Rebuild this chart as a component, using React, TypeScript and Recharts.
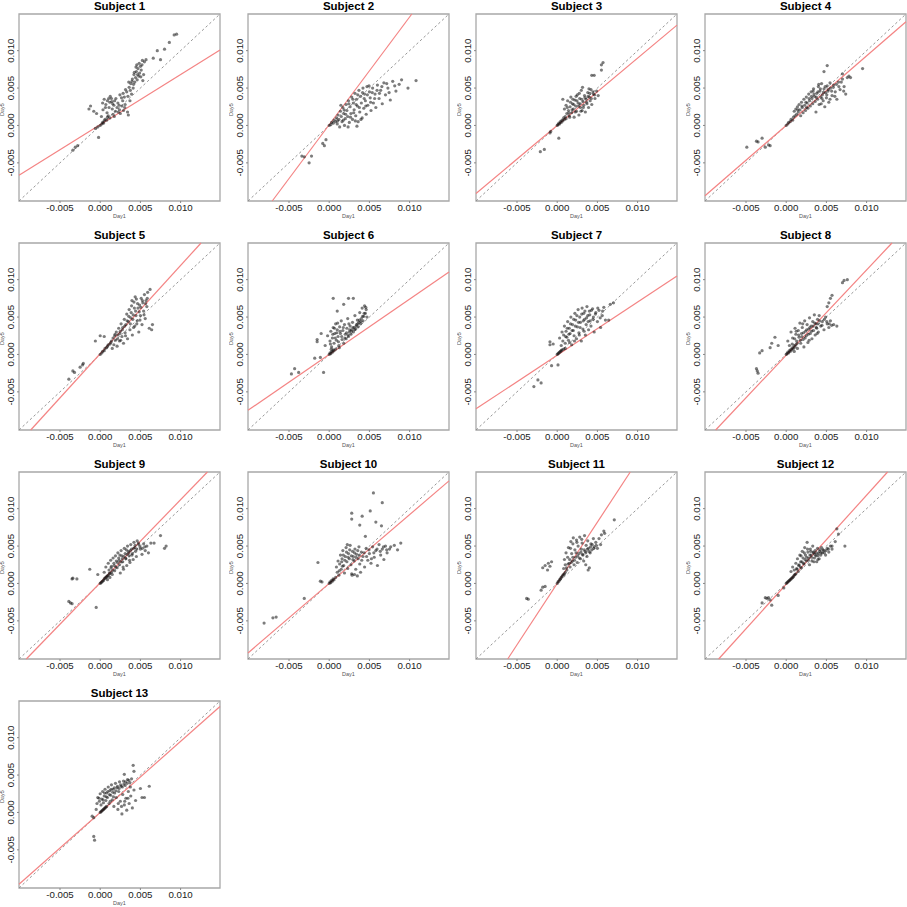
import React from "react";
import { ScatterChart, Scatter, XAxis, YAxis, ReferenceLine, ReferenceArea } from "recharts";

type Pt = [number, number];

const subjectNames = [
  "Subject 1", "Subject 2", "Subject 3", "Subject 4", "Subject 5", "Subject 6", "Subject 7",
  "Subject 8", "Subject 9", "Subject 10", "Subject 11", "Subject 12", "Subject 13",
];

const xLabel = "Day1";
const yLabel = "Day5";
const axisTicks = [-0.005, 0, 0.005, 0.01];

// red fit line per subject: Day5 = intercept + slope * Day1
const fitSlopes = [0.67, 1.44, 0.9, 0.93, 1.18, 0.74, 0.71, 1.14, 1.11, 0.92, 1.64, 1.19, 0.95];
const fitIntercepts = [0.0001, 0.0001, 0, 0, 0.0001, 0, -0.0001, -0.0001, 0.0001, 0, 0, -0.0001, 0];

const subject1: Pt[] = [
  [-0.0031, -0.0029], [-0.0028, -0.0027], [-0.0034, -0.0033], [-0.0006, -0.0004], [-0.0002, -0.0016], [-0.0003, -0.0002],
  [0.0, 0.0], [0.0002, 0.0002], [0.0003, 0.0004], [0.0004, 0.0003], [0.0005, 0.0006], [0.0006, 0.0008], [0.0008, 0.0007],
  [0.0009, 0.0011], [0.001, 0.0013], [0.0012, 0.001], [-0.0012, 0.0026], [-0.0014, 0.0022], [-0.0008, 0.0019],
  [0.0003, 0.003], [0.0005, 0.0035], [0.0007, 0.0028], [0.0009, 0.0033], [0.0011, 0.0024], [0.0012, 0.0031], [0.0014, 0.0036],
  [0.0015, 0.0022], [0.0017, 0.0027], [0.0018, 0.0033], [0.0019, 0.0019], [0.0021, 0.0024], [0.0022, 0.003], [0.0016, 0.0015],
  [0.0024, 0.0021], [0.0025, 0.0016], [0.0027, 0.0026], [0.0028, 0.0033], [0.0029, 0.002], [0.003, 0.0038], [0.0031, 0.0028],
  [0.0033, 0.0045], [0.0034, 0.0018], [0.0035, 0.0014], [0.0036, 0.0051], [0.0037, 0.0033], [0.0038, 0.0056], [0.0039, 0.0042],
  [0.004, 0.0062], [0.0041, 0.005], [0.0042, 0.0068], [0.0043, 0.0058], [0.0044, 0.0064], [0.0045, 0.0072], [0.0046, 0.0061],
  [0.0047, 0.0076], [0.0048, 0.0066], [0.0049, 0.007], [0.005, 0.0079], [0.0051, 0.0074], [0.0052, 0.0081], [0.0054, 0.0068],
  [0.0055, 0.0085], [0.0057, 0.0088], [0.0053, 0.006], [0.0066, 0.009], [0.0071, 0.01], [0.0075, 0.0088], [0.008, 0.0102],
  [0.0086, 0.0111], [0.0092, 0.0121], [0.0095, 0.0122],
  [0.00035, 0.0021], [0.00085, 0.0017], [0.00125, 0.0039], [0.00155, 0.0029], [0.00195, 0.0036], [0.00235, 0.0027],
  [0.00265, 0.0037], [0.00285, 0.0043], [0.00315, 0.0048], [0.00345, 0.0039], [0.00375, 0.0047], [0.00395, 0.0059],
  [0.00415, 0.0055], [0.00425, 0.0071], [0.00445, 0.0078], [0.00465, 0.0068], [0.00485, 0.0083], [0.00505, 0.0065],
  [0.00525, 0.0087], [0.00455, 0.0081], [0.00355, 0.0058], [0.00245, 0.0041], [0.00175, 0.0012], [0.00225, 0.0018],
  [0.00305, 0.0024], [0.00065, 0.0024], [0.00105, 0.0036], [0.00145, 0.0032], [0.00015, 0.0012], [-0.00045, 0.0016],
];

const subject2: Pt[] = [
  [-0.0034, -0.0041], [-0.0031, -0.0042], [-0.0025, -0.005], [-0.0022, -0.0041], [-0.0008, -0.0024], [-0.0006, -0.0027], [-0.0004, -0.0019],
  [0.0, 0.0], [0.0002, 0.0001], [0.0003, 0.0004], [0.0005, 0.0003], [0.0006, 0.0007], [0.0008, 0.0005], [0.0009, 0.001],
  [0.001, 0.0002], [0.0011, 0.0014], [0.0012, 0.0008], [0.0013, -0.0002], [0.0014, 0.0019], [0.0015, 0.0012], [0.0016, 0.0005],
  [0.0017, 0.0024], [0.0018, 0.0016], [0.0019, 0.0], [0.002, 0.0009], [0.0021, 0.0028], [0.0022, 0.002], [0.0023, 0.0012],
  [0.0024, 0.0033], [0.0025, 0.0004], [0.0026, 0.0025], [0.0027, 0.0016], [0.0028, 0.0038], [0.0029, 0.0008], [0.003, 0.003],
  [0.0031, 0.0021], [0.0032, 0.0043], [0.0033, 0.0013], [0.0034, 0.0035], [0.0035, 0.0026], [0.0036, 0.0005], [0.0037, 0.0047],
  [0.0038, 0.0018], [0.0039, 0.0039], [0.004, 0.003], [0.0041, 0.001], [0.0042, 0.005], [0.0043, 0.0023], [0.0044, 0.0042],
  [0.0045, 0.0033], [0.0046, 0.0015], [0.0047, 0.0052], [0.0048, 0.0027], [0.005, 0.0045], [0.0051, 0.0037], [0.0052, 0.002],
  [0.0054, 0.005], [0.0055, 0.003], [0.0057, 0.0042], [0.0058, 0.0024], [0.006, 0.0054], [0.0062, 0.0036], [0.0064, 0.0047],
  [0.0066, 0.0029], [0.0068, 0.0057], [0.007, 0.0041], [0.0073, 0.005], [0.0076, 0.0034], [0.0079, 0.0059], [0.0083, 0.0046],
  [0.0087, 0.0055], [0.009, 0.0061], [0.0098, 0.005], [0.0108, 0.006],
  [0.00145, 0.0027], [0.00175, 0.0007], [0.00205, 0.0015], [0.00245, 0.0029], [0.00265, 0.0011], [0.00295, 0.0035],
  [0.00305, 0.0017], [0.00335, 0.0028], [0.00355, 0.0041], [0.00375, 0.0024], [0.00395, 0.0008], [0.00415, 0.0044],
  [0.00435, 0.0036], [0.00455, 0.0026], [0.00475, 0.0041], [0.00495, 0.0053], [0.00515, 0.0031], [0.00535, 0.0044],
  [0.00565, 0.0036], [0.00595, 0.0047], [0.00625, 0.0043], [0.00655, 0.0052], [0.00715, 0.0056], [0.00745, 0.0044],
  [0.00815, 0.0053], [0.00105, 0.0006], [0.00185, 0.0021], [0.00325, 0.0006], [0.00235, -0.0002], [0.00345, -0.0001],
];

const subject3: Pt[] = [
  [-0.0021, -0.0035], [-0.0016, -0.0032], [-0.0009, -0.001], [-0.0008, -0.0008], [0.0002, -0.0017],
  [0.0, 0.0], [0.0001, 0.0001], [0.0002, 0.0003], [0.0003, 0.0002], [0.0004, 0.0005], [0.0005, 0.0004], [0.0006, 0.0007],
  [0.0007, 0.0006], [0.0008, 0.001], [0.0009, 0.0008], [0.001, 0.0012], [0.0011, 0.0009], [0.0007, 0.0035], [0.0009, 0.0022],
  [0.0011, 0.0027], [0.0012, 0.0016], [0.0013, 0.0033], [0.0014, 0.002], [0.0015, 0.0013], [0.0016, 0.0025], [0.0017, 0.0038],
  [0.0018, 0.0017], [0.0019, 0.0029], [0.002, 0.0022], [0.0021, 0.0011], [0.0022, 0.0034], [0.0023, 0.0026], [0.0024, 0.0019],
  [0.0025, 0.0041], [0.0026, 0.003], [0.0027, 0.0014], [0.0028, 0.0036], [0.0029, 0.0024], [0.003, 0.0047], [0.0031, 0.002],
  [0.0032, 0.0032], [0.0033, 0.0027], [0.0034, 0.004], [0.0035, 0.0018], [0.0036, 0.0035], [0.0037, 0.0029], [0.0038, 0.0044],
  [0.0039, 0.0024], [0.004, 0.0038], [0.0041, 0.0033], [0.0042, 0.0048], [0.0043, 0.0028], [0.0045, 0.0042], [0.0047, 0.0036],
  [0.0049, 0.0046], [0.0051, 0.004], [0.0043, 0.0067], [0.0046, 0.0067], [0.0055, 0.0074], [0.0055, 0.0081], [0.0057, 0.0084],
  [0.00125, 0.0024], [0.00145, 0.0017], [0.00165, 0.0031], [0.00185, 0.0021], [0.00205, 0.0028], [0.00225, 0.0018],
  [0.00245, 0.0033], [0.00265, 0.0026], [0.00285, 0.0029], [0.00305, 0.0035], [0.00325, 0.0024], [0.00345, 0.0037],
  [0.00365, 0.0031], [0.00385, 0.0039], [0.00405, 0.0043], [0.00425, 0.0036], [0.00445, 0.0045], [0.00465, 0.0041],
  [0.00275, 0.0043], [0.00195, 0.0035], [0.00235, 0.0039], [0.00315, 0.0051], [0.00155, 0.0011], [0.00295, 0.0019],
  [0.00395, 0.0049],
];

const subject4: Pt[] = [
  [-0.0049, -0.0029], [-0.0037, -0.0021], [-0.0035, -0.0022], [-0.003, -0.0017], [-0.0026, -0.0029], [-0.0022, -0.0026], [-0.002, -0.0027],
  [0.0, 0.0], [0.0002, 0.0002], [0.0003, 0.0004], [0.0005, 0.0005], [0.0006, 0.0008], [0.0008, 0.0007], [0.0009, 0.0011],
  [0.001, 0.0019], [0.0011, 0.0013], [0.0012, 0.0022], [0.0013, 0.0015], [0.0014, 0.0025], [0.0015, 0.0018], [0.0016, 0.0028],
  [0.0017, 0.0021], [0.0018, 0.0013], [0.0019, 0.0031], [0.002, 0.0024], [0.0021, 0.0017], [0.0022, 0.0035], [0.0023, 0.0027],
  [0.0024, 0.002], [0.0025, 0.0038], [0.0026, 0.003], [0.0027, 0.0023], [0.0028, 0.0042], [0.0029, 0.0033], [0.003, 0.0026],
  [0.0031, 0.0045], [0.0032, 0.0036], [0.0033, 0.0029], [0.0034, 0.0049], [0.0035, 0.0039], [0.0036, 0.0032], [0.0037, 0.0018],
  [0.0038, 0.0043], [0.0039, 0.0035], [0.004, 0.0052], [0.0041, 0.0028], [0.0042, 0.0046], [0.0043, 0.0038], [0.0044, 0.0056],
  [0.0045, 0.0041], [0.0046, 0.0033], [0.0047, 0.0049], [0.0048, 0.0025], [0.0049, 0.0044], [0.005, 0.0037], [0.0051, 0.0053],
  [0.0052, 0.0046], [0.0053, 0.0031], [0.0055, 0.005], [0.0057, 0.004], [0.0059, 0.0054], [0.0061, 0.0045], [0.0063, 0.0035],
  [0.0065, 0.0058], [0.0067, 0.0048], [0.007, 0.0062], [0.0072, 0.0052], [0.0074, 0.0042], [0.0076, 0.0064], [0.0078, 0.0066],
  [0.008, 0.0064], [0.0047, 0.0072], [0.0051, 0.008], [0.007, 0.0069], [0.0095, 0.0076],
  [0.00145, 0.0021], [0.00195, 0.0026], [0.00245, 0.0031], [0.00285, 0.0036], [0.00315, 0.0039], [0.00345, 0.0042],
  [0.00375, 0.0038], [0.00395, 0.0045], [0.00425, 0.0049], [0.00445, 0.0036], [0.00465, 0.0044], [0.00485, 0.0052],
  [0.00505, 0.0041], [0.00525, 0.0048], [0.00545, 0.0057], [0.00565, 0.0046], [0.00585, 0.0051], [0.00605, 0.0039],
  [0.00625, 0.0055], [0.00655, 0.0052], [0.00685, 0.0058], [0.00715, 0.0046], [0.00335, 0.0046], [0.00405, 0.0055],
  [0.00255, 0.0024], [0.00435, 0.0029], [0.00545, 0.0035],
];

const subject5: Pt[] = [
  [-0.0039, -0.0033], [-0.0034, -0.0022], [-0.0032, -0.0024], [-0.0025, -0.0017], [-0.0022, -0.0014], [-0.0021, -0.0012],
  [-0.0006, 0.0018], [0.0, 0.0025], [0.0005, 0.0024], [0.0, 0.0], [0.0002, 0.0002], [0.0003, 0.0004], [0.0005, 0.0005],
  [0.0006, 0.0008], [0.0008, 0.0009], [0.0009, 0.0011], [0.001, 0.0013], [0.0012, 0.0014], [0.0013, 0.0016], [0.0014, 0.0018],
  [0.0015, 0.0008], [0.0016, 0.0022], [0.0017, 0.0013], [0.0018, 0.0025], [0.0019, 0.0019], [0.002, 0.003], [0.0021, 0.0011],
  [0.0022, 0.0026], [0.0023, 0.0035], [0.0024, 0.0018], [0.0025, 0.0031], [0.0026, 0.0041], [0.0027, 0.0024], [0.0028, 0.0036],
  [0.0029, 0.0015], [0.003, 0.0047], [0.0031, 0.0029], [0.0032, 0.004], [0.0033, 0.0054], [0.0034, 0.0021], [0.0035, 0.0044],
  [0.0036, 0.006], [0.0037, 0.0033], [0.0038, 0.0049], [0.0039, 0.0065], [0.004, 0.0026], [0.0041, 0.0053], [0.0042, 0.007],
  [0.0043, 0.0038], [0.0044, 0.0058], [0.0045, 0.0074], [0.0046, 0.0045], [0.0047, 0.0062], [0.0048, 0.003], [0.0049, 0.0066],
  [0.005, 0.0052], [0.0051, 0.0075], [0.0052, 0.004], [0.0053, 0.0069], [0.0054, 0.0058], [0.0055, 0.008], [0.0056, 0.0048],
  [0.0057, 0.0072], [0.0058, 0.0064], [0.0059, 0.0083], [0.0062, 0.0087], [0.0061, 0.0035], [0.0064, 0.0033], [0.0065, 0.004],
  [0.00185, 0.0027], [0.00215, 0.0021], [0.00245, 0.0028], [0.00275, 0.0033], [0.00305, 0.0038], [0.00335, 0.0045],
  [0.00355, 0.0051], [0.00385, 0.0056], [0.00405, 0.0047], [0.00425, 0.0062], [0.00445, 0.0052], [0.00465, 0.0068],
  [0.00485, 0.0057], [0.00505, 0.0063], [0.00525, 0.0072], [0.00545, 0.0053], [0.00565, 0.0068], [0.00585, 0.0075],
  [0.00375, 0.0041], [0.00415, 0.0036], [0.00455, 0.0041], [0.00495, 0.0046], [0.00315, 0.0025], [0.00255, 0.0019],
  [0.00395, 0.0072], [0.00435, 0.0077],
];

const subject6: Pt[] = [
  [-0.0047, -0.0026], [-0.0043, -0.0019], [-0.0038, -0.0024], [-0.0007, -0.0024], [-0.0018, -0.0005], [-0.0011, -0.0004],
  [-0.0015, 0.0017], [-0.0015, 0.002], [-0.001, 0.0028], [0.0, 0.0], [0.0001, 0.0002], [0.0002, 0.0001], [0.0003, 0.0004],
  [0.0004, 0.0003], [0.0005, 0.0006], [0.0006, 0.0005], [0.0008, 0.0007], [-0.0005, 0.0012], [-0.0002, 0.0025], [0.0001, 0.0018],
  [0.0002, 0.0031], [0.0003, 0.001], [0.0004, 0.0022], [0.0005, 0.0036], [0.0006, 0.0015], [0.0007, 0.0028], [0.0008, 0.0041],
  [0.0009, 0.0019], [0.001, 0.0033], [0.0011, 0.0024], [0.0012, 0.0012], [0.0013, 0.0037], [0.0014, 0.0028], [0.0015, 0.0045],
  [0.0016, 0.002], [0.0017, 0.0032], [0.0018, 0.0015], [0.0019, 0.004], [0.002, 0.0027], [0.0021, 0.0021], [0.0022, 0.0035],
  [0.0023, 0.0048], [0.0024, 0.0024], [0.0025, 0.003], [0.0026, 0.0038], [0.0027, 0.0027], [0.0028, 0.0033], [0.0029, 0.0043],
  [0.003, 0.003], [0.0031, 0.0036], [0.0032, 0.0052], [0.0033, 0.0034], [0.0034, 0.004], [0.0035, 0.0046], [0.0036, 0.0037],
  [0.0037, 0.0043], [0.0038, 0.0056], [0.0039, 0.0041], [0.004, 0.0048], [0.0041, 0.0062], [0.0042, 0.0045], [0.0043, 0.0051],
  [0.0044, 0.0065], [0.0045, 0.0055], [0.0046, 0.006], [0.0047, 0.005], [0.0005, 0.0075], [0.001, 0.0058], [0.0018, 0.0067],
  [0.0024, 0.0075], [0.003, 0.0075],
  [0.00015, 0.0014], [0.00045, 0.0027], [0.00075, 0.0022], [0.00095, 0.0029], [0.00115, 0.0017], [0.00135, 0.0031],
  [0.00155, 0.0024], [0.00175, 0.0036], [0.00195, 0.0022], [0.00215, 0.0029], [0.00235, 0.0026], [0.00255, 0.0033],
  [0.00275, 0.0031], [0.00295, 0.0036], [0.00315, 0.0033], [0.00335, 0.0038], [0.00355, 0.0041], [0.00375, 0.0046],
  [0.00395, 0.0044], [0.00415, 0.0051], [0.00435, 0.0055], [0.00455, 0.0063], [0.00065, 0.0035], [0.00105, 0.0042],
  [0.00245, 0.0041], [0.00025, 0.0007], [0.00125, 0.0009],
];

const subject7: Pt[] = [
  [-0.0029, -0.0043], [-0.0024, -0.0034], [-0.002, -0.0038], [-0.0007, -0.0015], [0.0001, -0.0014], [-0.0009, 0.0017],
  [-0.0009, 0.0013], [-0.0005, 0.0014], [0.0, 0.0], [0.0001, 0.0001], [0.0002, 0.0002], [0.0003, 0.0003], [0.0004, 0.0004],
  [0.0005, 0.0005], [0.0006, 0.0006], [0.0008, 0.0007], [0.001, 0.0008], [0.0003, 0.0022], [0.0005, 0.0012], [0.0006, 0.003],
  [0.0007, 0.0018], [0.0008, 0.0026], [0.0009, 0.0038], [0.001, 0.0015], [0.0011, 0.0031], [0.0012, 0.0023], [0.0013, 0.0044],
  [0.0014, 0.0019], [0.0015, 0.0035], [0.0016, 0.0028], [0.0017, 0.005], [0.0018, 0.0013], [0.0019, 0.004], [0.002, 0.0032],
  [0.0021, 0.0025], [0.0022, 0.0055], [0.0023, 0.0046], [0.0024, 0.0021], [0.0025, 0.0037], [0.0026, 0.006], [0.0027, 0.0029],
  [0.0028, 0.005], [0.0029, 0.0043], [0.003, 0.0018], [0.0031, 0.0062], [0.0032, 0.0034], [0.0033, 0.0055], [0.0034, 0.0047],
  [0.0035, 0.0026], [0.0036, 0.004], [0.0037, 0.0064], [0.0038, 0.0052], [0.0039, 0.0033], [0.004, 0.0058], [0.0041, 0.0045],
  [0.0042, 0.0038], [0.0044, 0.0061], [0.0045, 0.005], [0.0046, 0.003], [0.0048, 0.0056], [0.005, 0.0044], [0.0052, 0.0059],
  [0.0054, 0.0036], [0.0056, 0.0052], [0.0058, 0.0063], [0.006, 0.0046], [0.0064, 0.0046], [0.0066, 0.0067], [0.007, 0.0069],
  [0.00105, 0.0024], [0.00125, 0.0035], [0.00145, 0.0027], [0.00165, 0.0041], [0.00185, 0.0032], [0.00205, 0.0047],
  [0.00225, 0.0038], [0.00245, 0.0052], [0.00265, 0.0043], [0.00285, 0.0036], [0.00305, 0.0054], [0.00325, 0.0045],
  [0.00345, 0.0058], [0.00365, 0.0049], [0.00385, 0.0044], [0.00405, 0.0053], [0.00425, 0.0059], [0.00445, 0.0047],
  [0.00475, 0.0054], [0.00505, 0.0062], [0.00535, 0.0049], [0.00565, 0.0058], [0.00215, 0.0018], [0.00155, 0.0016],
  [0.00275, 0.0026], [0.00335, 0.0031],
];

const subject8: Pt[] = [
  [-0.0037, -0.0019], [-0.0035, -0.0025], [-0.0036, -0.0022], [-0.0033, 0.0002], [-0.003, 0.0005], [-0.002, 0.0009],
  [-0.0018, 0.0015], [-0.0014, 0.0023], [-0.001, 0.0012], [0.0, 0.0], [0.0001, 0.0001], [0.0002, 0.0003], [0.0003, 0.0002],
  [0.0004, 0.0005], [0.0005, 0.0004], [0.0006, 0.0007], [0.0007, 0.0006], [0.0008, 0.0009], [0.0009, 0.0008], [0.001, 0.0012],
  [0.0011, 0.001], [0.0012, 0.0013], [0.0002, 0.0018], [0.0004, 0.0012], [0.0006, 0.003], [0.0008, 0.0022], [0.001, 0.0004],
  [0.0011, 0.0035], [0.0012, 0.0027], [0.0013, 0.0018], [0.0014, 0.0008], [0.0015, 0.0032], [0.0016, 0.0023], [0.0017, 0.0042],
  [0.0018, 0.0015], [0.0019, 0.0028], [0.002, 0.0036], [0.0021, 0.002], [0.0022, 0.001], [0.0023, 0.0045], [0.0024, 0.0031],
  [0.0025, 0.0025], [0.0026, 0.004], [0.0027, 0.0016], [0.0028, 0.0034], [0.0029, 0.0049], [0.003, 0.0028], [0.0031, 0.0038],
  [0.0032, 0.0021], [0.0033, 0.0044], [0.0034, 0.0032], [0.0035, 0.0053], [0.0036, 0.0026], [0.0037, 0.0041], [0.0038, 0.0035],
  [0.0039, 0.0047], [0.004, 0.003], [0.0041, 0.0052], [0.0043, 0.0038], [0.0045, 0.0044], [0.0047, 0.0033], [0.0049, 0.005],
  [0.0051, 0.0041], [0.0053, 0.0036], [0.0055, 0.0045], [0.0059, 0.004], [0.0063, 0.0038], [0.0051, 0.0064], [0.0053, 0.0069],
  [0.0055, 0.0075], [0.0057, 0.0079], [0.007, 0.0096], [0.0072, 0.0099], [0.0076, 0.01],
  [0.00075, 0.0014], [0.00105, 0.0021], [0.00135, 0.0015], [0.00155, 0.0026], [0.00175, 0.0019], [0.00195, 0.0024],
  [0.00215, 0.0029], [0.00235, 0.0022], [0.00255, 0.0033], [0.00275, 0.0027], [0.00295, 0.0036], [0.00315, 0.0031],
  [0.00335, 0.0038], [0.00355, 0.0042], [0.00375, 0.0036], [0.00395, 0.0041], [0.00415, 0.0045], [0.00445, 0.0039],
  [0.00475, 0.0047], [0.00505, 0.0044], [0.00535, 0.0041], [0.00565, 0.0039], [0.00125, 0.0031], [0.00205, 0.0041],
  [0.00285, 0.0019], [0.00385, 0.0028],
];

const subject9: Pt[] = [
  [-0.0039, -0.0024], [-0.0037, -0.0026], [-0.0035, -0.0027], [-0.0034, 0.0007], [-0.0035, 0.0006], [-0.0029, 0.0006],
  [-0.0005, -0.0032], [-0.0013, 0.0019], [-0.0003, 0.0012], [0.0, 0.0], [0.0001, 0.0001], [0.0002, 0.0002], [0.0003, 0.0003],
  [0.0004, 0.0004], [0.0005, 0.0006], [0.0006, 0.0007], [0.0007, 0.0008], [0.0008, 0.0009], [0.0009, 0.001], [0.001, 0.0011],
  [0.0012, 0.0013], [0.0014, 0.0015], [0.0005, 0.0015], [0.0007, 0.0022], [0.0009, 0.0005], [0.001, 0.0027], [0.0011, 0.0018],
  [0.0012, 0.0008], [0.0013, 0.0031], [0.0014, 0.0023], [0.0015, 0.0012], [0.0016, 0.0034], [0.0017, 0.0027], [0.0018, 0.0017],
  [0.0019, 0.0037], [0.002, 0.003], [0.0021, 0.0021], [0.0022, 0.0041], [0.0023, 0.0034], [0.0024, 0.0025], [0.0025, 0.0014],
  [0.0026, 0.0044], [0.0027, 0.0037], [0.0028, 0.0029], [0.0029, 0.0019], [0.003, 0.0047], [0.0031, 0.004], [0.0032, 0.0033],
  [0.0033, 0.0024], [0.0034, 0.005], [0.0035, 0.0043], [0.0036, 0.0037], [0.0037, 0.0028], [0.0038, 0.0052], [0.0039, 0.0046],
  [0.004, 0.004], [0.0041, 0.0032], [0.0042, 0.0055], [0.0043, 0.0048], [0.0044, 0.0043], [0.0045, 0.0036], [0.0046, 0.0057],
  [0.0048, 0.0052], [0.005, 0.0046], [0.0052, 0.0039], [0.0054, 0.0053], [0.0056, 0.0044], [0.0058, 0.005], [0.006, 0.0041],
  [0.0063, 0.0054], [0.0067, 0.0054], [0.0075, 0.0064], [0.008, 0.0047], [0.0082, 0.005],
  [0.00115, 0.0014], [0.00135, 0.0021], [0.00155, 0.0018], [0.00175, 0.0024], [0.00195, 0.0022], [0.00215, 0.0028],
  [0.00235, 0.0031], [0.00255, 0.0029], [0.00275, 0.0033], [0.00295, 0.0036], [0.00315, 0.0034], [0.00335, 0.0039],
  [0.00355, 0.0041], [0.00375, 0.0044], [0.00395, 0.0038], [0.00415, 0.0047], [0.00435, 0.0051], [0.00455, 0.0046],
  [0.00475, 0.0054], [0.00495, 0.0049], [0.00525, 0.0047], [0.00555, 0.0049], [0.00245, 0.0038], [0.00325, 0.0045],
  [0.00285, 0.0022], [0.00365, 0.0031],
];

const subject10: Pt[] = [
  [-0.0081, -0.0053], [-0.007, -0.0046], [-0.0066, -0.0045], [-0.0031, -0.002], [-0.0011, 0.0003], [-0.0009, 0.0002],
  [-0.0014, 0.0028], [0.0, 0.0], [0.0001, 0.0002], [0.0002, 0.0001], [0.0003, 0.0004], [0.0004, 0.0003], [0.0005, 0.0006],
  [0.0006, 0.0005], [0.0008, 0.0008], [0.0009, 0.0022], [0.001, 0.0015], [0.0011, 0.003], [0.0012, 0.0011], [0.0013, 0.0026],
  [0.0014, 0.0038], [0.0015, 0.0019], [0.0016, 0.0033], [0.0017, 0.0044], [0.0018, 0.0024], [0.0019, 0.0014], [0.002, 0.0036],
  [0.0021, 0.0048], [0.0022, 0.0029], [0.0023, 0.002], [0.0024, 0.004], [0.0025, 0.0033], [0.0026, 0.0051], [0.0027, 0.0025],
  [0.0028, 0.0013], [0.0029, 0.0043], [0.003, 0.0036], [0.0031, 0.003], [0.0032, 0.0046], [0.0033, 0.0019], [0.0034, 0.0039],
  [0.0035, 0.001], [0.0036, 0.0033], [0.0037, 0.0049], [0.0038, 0.0026], [0.0039, 0.0015], [0.004, 0.0042], [0.0042, 0.0036],
  [0.0044, 0.0022], [0.0046, 0.0047], [0.0048, 0.0031], [0.005, 0.004], [0.0052, 0.0027], [0.0054, 0.0049], [0.0056, 0.0035],
  [0.0058, 0.0044], [0.006, 0.0024], [0.0062, 0.0052], [0.0064, 0.0038], [0.0066, 0.0046], [0.0068, 0.0032], [0.007, 0.005],
  [0.0072, 0.0041], [0.0075, 0.0046], [0.0081, 0.0051], [0.0085, 0.0045], [0.0089, 0.0054], [0.0028, 0.0094], [0.0028, 0.0086],
  [0.0041, 0.009], [0.0051, 0.0097], [0.0055, 0.0121], [0.0066, 0.0108], [0.0038, 0.0078], [0.0058, 0.0082], [0.0065, 0.0077],
  [0.0045, 0.0063],
  [0.00155, 0.0029], [0.00175, 0.0038], [0.00195, 0.0031], [0.00215, 0.0042], [0.00235, 0.0035], [0.00255, 0.0045],
  [0.00275, 0.0037], [0.00295, 0.0032], [0.00315, 0.0041], [0.00335, 0.0035], [0.00355, 0.0044], [0.00375, 0.0038],
  [0.00405, 0.0031], [0.00435, 0.0041], [0.00465, 0.0036], [0.00495, 0.0045], [0.00525, 0.0033], [0.00555, 0.0041],
  [0.00595, 0.0046], [0.00635, 0.0043], [0.00675, 0.0049], [0.00715, 0.0045], [0.00765, 0.0049], [0.00285, 0.0011],
  [0.00315, 0.0012], [0.00125, 0.0017], [0.00165, 0.0023], [0.00225, 0.0052],
];

const subject11: Pt[] = [
  [-0.0038, -0.002], [-0.0036, -0.0021], [-0.002, -0.0009], [-0.0018, -0.0005], [-0.0015, -0.0004], [-0.0018, 0.0021],
  [-0.0015, 0.0024], [-0.0012, 0.0018], [-0.0007, 0.0029], [-0.0009, 0.0023], [-0.0011, 0.0027], [0.0, 0.0], [0.0001, 0.0002],
  [0.0002, 0.0003], [0.0003, 0.0005], [0.0004, 0.0006], [0.0005, 0.0008], [0.0006, 0.0009], [0.0007, 0.0011], [0.0008, 0.0012],
  [0.0009, 0.0013], [0.001, 0.0015], [0.0008, 0.002], [0.0009, 0.0032], [0.001, 0.0025], [0.0011, 0.0041], [0.0012, 0.0018],
  [0.0013, 0.0035], [0.0014, 0.0048], [0.0015, 0.0027], [0.0016, 0.0022], [0.0017, 0.0056], [0.0018, 0.004], [0.0019, 0.003],
  [0.002, 0.0061], [0.0021, 0.0025], [0.0022, 0.0045], [0.0023, 0.0035], [0.0024, 0.0058], [0.0025, 0.0028], [0.0026, 0.005],
  [0.0027, 0.004], [0.0028, 0.0062], [0.0029, 0.0033], [0.003, 0.0046], [0.0031, 0.0054], [0.0032, 0.0038], [0.0033, 0.003],
  [0.0034, 0.0064], [0.0035, 0.0043], [0.0036, 0.0051], [0.0037, 0.0036], [0.0038, 0.0057], [0.0039, 0.0047], [0.004, 0.0021],
  [0.0041, 0.0041], [0.0042, 0.0053], [0.0043, 0.0045], [0.0045, 0.006], [0.0046, 0.0049], [0.0048, 0.0055], [0.005, 0.0047],
  [0.0052, 0.006], [0.0054, 0.0052], [0.0055, 0.0065], [0.0058, 0.007], [0.0059, 0.0067], [0.0071, 0.0085],
  [0.00115, 0.0021], [0.00135, 0.0026], [0.00155, 0.0032], [0.00175, 0.0028], [0.00195, 0.0035], [0.00215, 0.0031],
  [0.00235, 0.0041], [0.00255, 0.0037], [0.00275, 0.0034], [0.00295, 0.0042], [0.00315, 0.0039], [0.00335, 0.0045],
  [0.00355, 0.0041], [0.00375, 0.0046], [0.00395, 0.0043], [0.00415, 0.0049], [0.00435, 0.0052], [0.00455, 0.0047],
  [0.00485, 0.0051], [0.00195, 0.0053], [0.00245, 0.0055], [0.00305, 0.0059], [0.00165, 0.0047], [0.00385, 0.0018],
  [0.00355, 0.0025],
];

const subject12: Pt[] = [
  [-0.003, -0.0026], [-0.0026, -0.0019], [-0.0024, -0.002], [-0.0022, -0.0019], [-0.002, -0.0022], [-0.0018, -0.0029],
  [-0.001, -0.0016], [-0.0003, -0.0006], [0.0, 0.0], [0.0001, 0.0001], [0.0002, 0.0002], [0.0003, 0.0003], [0.0004, 0.0004],
  [0.0005, 0.0005], [0.0006, 0.0006], [0.0007, 0.0007], [0.0008, 0.0008], [0.0009, 0.0009], [0.001, 0.0011], [0.0011, 0.0012],
  [0.0012, 0.0013], [0.0006, 0.0016], [0.0008, 0.0022], [0.001, 0.0018], [0.0012, 0.0027], [0.0013, 0.002], [0.0014, 0.0033],
  [0.0015, 0.0016], [0.0016, 0.0025], [0.0017, 0.0038], [0.0018, 0.0029], [0.0019, 0.0021], [0.002, 0.0043], [0.0021, 0.0034],
  [0.0022, 0.0026], [0.0023, 0.0048], [0.0024, 0.0038], [0.0025, 0.003], [0.0026, 0.0055], [0.0027, 0.0042], [0.0028, 0.0034],
  [0.0029, 0.0025], [0.003, 0.0046], [0.0031, 0.0038], [0.0032, 0.003], [0.0033, 0.005], [0.0034, 0.0041], [0.0035, 0.0034],
  [0.0036, 0.0044], [0.0037, 0.0037], [0.0038, 0.0029], [0.0039, 0.0047], [0.004, 0.004], [0.0041, 0.0033], [0.0042, 0.0045],
  [0.0043, 0.0038], [0.0044, 0.0048], [0.0045, 0.0041], [0.0047, 0.0044], [0.0049, 0.0038], [0.0051, 0.0047], [0.0053, 0.0042],
  [0.0055, 0.005], [0.0057, 0.0046], [0.0057, 0.005], [0.0061, 0.0056], [0.0063, 0.0073], [0.0065, 0.0066], [0.0073, 0.005],
  [0.00135, 0.0019], [0.00155, 0.0024], [0.00175, 0.0022], [0.00195, 0.0029], [0.00215, 0.0027], [0.00235, 0.0032],
  [0.00255, 0.0035], [0.00275, 0.0031], [0.00295, 0.0038], [0.00315, 0.0035], [0.00335, 0.0042], [0.00355, 0.0039],
  [0.00375, 0.0041], [0.00395, 0.0037], [0.00415, 0.0043], [0.00435, 0.0041], [0.00455, 0.0045], [0.00475, 0.0041],
  [0.00495, 0.0044], [0.00525, 0.0046], [0.00185, 0.0037], [0.00225, 0.0041], [0.00265, 0.0046], [0.00305, 0.0043],
  [0.00345, 0.0029], [0.00395, 0.0032],
];

const subject13: Pt[] = [
  [-0.0008, -0.0032], [-0.0007, -0.0037], [-0.001, -0.0005], [-0.0008, -0.0007], [-0.0005, 0.0004], [0.0, 0.0],
  [0.0001, 0.0001], [0.0002, 0.0002], [0.0003, 0.0003], [0.0004, 0.0004], [0.0005, 0.0005], [0.0006, 0.0006], [0.0007, 0.0007],
  [0.0008, 0.0008], [-0.0004, 0.0012], [-0.0003, 0.002], [-0.0001, 0.0015], [0.0, 0.0025], [0.0001, 0.001], [0.0002, 0.0018],
  [0.0003, 0.0028], [0.0004, 0.0013], [0.0005, 0.0022], [0.0006, 0.0031], [0.0007, 0.0016], [0.0008, 0.0026], [0.0009, 0.002],
  [0.001, 0.0034], [0.0011, 0.0012], [0.0012, 0.0029], [0.0013, 0.0023], [0.0014, 0.0037], [0.0015, 0.0017], [0.0016, 0.0031],
  [0.0017, 0.0008], [0.0018, 0.0026], [0.0019, 0.0039], [0.002, 0.002], [0.0021, 0.0033], [0.0022, 0.0004], [0.0023, 0.0028],
  [0.0024, 0.0041], [0.0025, 0.0015], [0.0026, 0.0035], [0.0027, -0.0002], [0.0028, 0.0024], [0.0029, 0.0042], [0.003, 0.001],
  [0.0031, 0.0036], [0.0032, 0.0019], [0.0033, 0.0003], [0.0034, 0.0044], [0.0035, 0.0028], [0.0036, 0.0012], [0.0037, 0.004],
  [0.0038, 0.0022], [0.0039, 0.0045], [0.004, 0.0006], [0.0042, 0.003], [0.0044, 0.0016], [0.003, 0.0051], [0.0041, 0.0063],
  [0.0042, 0.0055], [0.005, 0.0032], [0.0052, 0.002], [0.0055, 0.002], [0.0061, 0.0035],
  [0.00035, 0.0017], [0.00055, 0.0026], [0.00075, 0.0021], [0.00095, 0.0028], [0.00115, 0.0024], [0.00135, 0.0031],
  [0.00155, 0.0027], [0.00175, 0.0033], [0.00195, 0.0029], [0.00215, 0.0035], [0.00235, 0.0032], [0.00255, 0.0037],
  [0.00275, 0.0034], [0.00295, 0.0038], [0.00315, 0.0041], [0.00335, 0.0039], [0.00355, 0.0043], [0.00375, 0.0034],
  [0.00225, 0.0012], [0.00265, 0.0008], [0.00305, 0.0015], [0.00345, 0.0019], [0.00125, 0.0015], [0.00165, 0.0021],
  [-0.00015, 0.0019],
];

const subjectPoints = [
  subject1, subject2, subject3, subject4, subject5, subject6, subject7,
  subject8, subject9, subject10, subject11, subject12, subject13,
];

// shared square axis range of every panel
const LO = -0.0101;
const HI = 0.0149;

const PANEL_W = 229;
const PANEL_H = 229;
const COL_STEP = 228.7;
const ROW_STEP = 228.9;
const BOX_L = 19;
const BOX_T = 14;
const BOX_W = 201;
const BOX_H = 187;
const FONT = '"Liberation Sans", Arial, Helvetica, sans-serif';

// clip the fitted line y = b + m x to the square [LO, HI] x [LO, HI]
function fitSegment(m: number, b: number) {
  const xa = (LO - b) / m;
  const xb = (HI - b) / m;
  const x1 = Math.max(LO, Math.min(xa, xb));
  const x2 = Math.min(HI, Math.max(xa, xb));
  return [
    { x: x1, y: b + m * x1 },
    { x: x2, y: b + m * x2 },
  ];
}

const XTick = (p: any) => (
  <text x={p.x} y={p.y} dy="0.71em" textAnchor="middle" fontSize={9.7} fill="#222" fontFamily={FONT}>
    {Number(p.payload.value).toFixed(3)}
  </text>
);

const YTick = (p: any) => {
  const x = p.x - 2;
  return (
    <text
      x={x}
      y={p.y}
      transform={`rotate(-90 ${x} ${p.y})`}
      textAnchor="middle"
      fontSize={9.7}
      fill="#222"
      fontFamily={FONT}
    >
      {Number(p.payload.value).toFixed(3)}
    </text>
  );
};

const Dot = (p: any) => <circle cx={p.cx} cy={p.cy} r={1.6} fill="#111" fillOpacity={0.55} />;

function Panel({ index }: { index: number }) {
  const col = index % 4;
  const row = Math.floor(index / 4);
  const data = subjectPoints[index].map(([x, y]) => ({ x, y }));
  const cx = BOX_L + BOX_W / 2;
  const cy = BOX_T + BOX_H / 2 + 2;
  const yLabX = BOX_L - 15;

  return (
    <div
      style={{
        position: "absolute",
        left: Math.round(col * COL_STEP),
        top: Math.round(row * ROW_STEP),
        width: PANEL_W,
        height: PANEL_H,
      }}
    >
      <ScatterChart
        width={PANEL_W}
        height={PANEL_H}
        margin={{ top: BOX_T, right: PANEL_W - BOX_L - BOX_W, bottom: 0, left: 0 }}
      >
        <XAxis
          type="number"
          dataKey="x"
          domain={[LO, HI]}
          allowDataOverflow
          ticks={axisTicks}
          interval={0}
          axisLine={false}
          tickSize={2}
          tickMargin={1}
          tickLine={{ stroke: "#888" }}
          tick={XTick}
          height={PANEL_H - BOX_T - BOX_H}
        />
        <YAxis
          type="number"
          dataKey="y"
          domain={[LO, HI]}
          allowDataOverflow
          ticks={axisTicks}
          interval={0}
          axisLine={false}
          tickSize={2}
          tickMargin={1}
          tickLine={{ stroke: "#888" }}
          tick={YTick}
          width={BOX_L}
        />
        <ReferenceArea
          x1={LO}
          x2={HI}
          y1={LO}
          y2={HI}
          fill="none"
          fillOpacity={0}
          stroke="#a8a8a8"
          strokeWidth={1.3}
          ifOverflow="visible"
        />
        <Scatter data={data} isAnimationActive={false} shape={Dot} />
        <ReferenceLine
          segment={[
            { x: LO, y: LO },
            { x: HI, y: HI },
          ]}
          stroke="#8a8a8a"
          strokeWidth={0.9}
          strokeDasharray="2.5 2.5"
          ifOverflow="visible"
        />
        <ReferenceLine
          segment={fitSegment(fitSlopes[index], fitIntercepts[index])}
          stroke="#f48484"
          strokeWidth={1.2}
          ifOverflow="visible"
        />
      </ScatterChart>
      <svg
        width={PANEL_W}
        height={PANEL_H}
        style={{ position: "absolute", left: 0, top: 0, pointerEvents: "none" }}
      >
        <text x={cx} y={BOX_T - 4.5} textAnchor="middle" fontSize={11.5} fontWeight="bold" fill="#000" fontFamily={FONT}>
          {subjectNames[index]}
        </text>
        <text x={cx} y={BOX_T + BOX_H + 17} textAnchor="middle" fontSize={5.5} fill="#555" fontFamily={FONT}>
          {xLabel}
        </text>
        <text
          x={yLabX}
          y={cy}
          transform={`rotate(-90 ${yLabX} ${cy})`}
          textAnchor="middle"
          fontSize={5.5}
          fill="#555"
          fontFamily={FONT}
        >
          {yLabel}
        </text>
      </svg>
    </div>
  );
}

export default function App() {
  return (
    <div style={{ position: "absolute", left: 0, top: 0, width: 907, height: 907, background: "#fff" }}>
      {subjectNames.map((_, i) => (
        <Panel key={i} index={i} />
      ))}
    </div>
  );
}
